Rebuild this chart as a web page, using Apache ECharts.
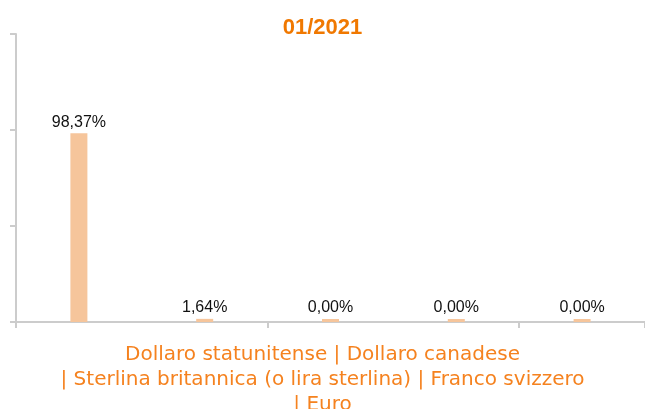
<!DOCTYPE html>
<html>
<head>
<meta charset="utf-8">
<script src="https://cdn.jsdelivr.net/npm/echarts@6/dist/echarts.min.js"></script>
<style>
html, body { margin: 0; padding: 0; background: #fff; }
#chart { width: 645px; height: 409px; }
</style>
</head>
<body>
<div id="chart"></div>
<script>
// dati
var periodo = '01/2021';
var valute = ['Dollaro statunitense', 'Dollaro canadese', 'Sterlina britannica (o lira sterlina)', 'Franco svizzero', 'Euro'];
var quote = [98.37, 1.64, 0, 0, 0];
var yTicks = [0, 50, 100, 150];

var arancio = '#f5821f';
var grigio = '#cccccc';

// testo delle categorie, spezzato come nel grafico originale
var testoValute = valute.slice(0, 2).join(' | ') + '\n| ' + valute.slice(2, 4).join(' | ') + '\n| ' + valute[4];

var chart = echarts.init(document.getElementById('chart'));
chart.setOption({
  animation: false,
  title: [{
    text: periodo,
    left: 'center',
    top: 12,
    textStyle: { color: '#f07800', fontSize: 22, fontWeight: 'bold', fontFamily: 'Liberation Sans' }
  }, {
    text: testoValute,
    left: 'center',
    top: 342,
    padding: 0,
    textStyle: {
      color: arancio,
      fontSize: 20,
      fontWeight: 'normal',
      fontFamily: 'DejaVu Sans',
      lineHeight: 25
    }
  }],
  grid: { left: 16, right: -3, top: 34, bottom: 87 },
  xAxis: {
    type: 'category',
    data: valute,
    axisLine: { lineStyle: { color: grigio, width: 2 } },
    axisTick: { show: true, length: 6, lineStyle: { color: grigio, width: 2 } },
    axisLabel: { show: false }
  },
  yAxis: {
    type: 'value',
    min: yTicks[0],
    max: yTicks[yTicks.length - 1],
    interval: yTicks[1] - yTicks[0],
    axisLine: { show: true, lineStyle: { color: grigio, width: 2 } },
    axisTick: { show: true, length: 6, lineStyle: { color: grigio, width: 2 } },
    axisLabel: { show: false },
    splitLine: { show: false }
  },
  series: [{
    type: 'bar',
    data: quote,
    barWidth: 17,
    barMinHeight: 3,
    itemStyle: { color: '#f6c59b' },
    label: {
      show: true,
      position: 'top',
      distance: 3,
      color: '#111',
      fontSize: 16,
      fontFamily: 'Liberation Sans',
      formatter: function (p) { return p.value.toFixed(2).replace('.', ',') + '%'; }
    }
  }]
});
</script>
</body>
</html>
